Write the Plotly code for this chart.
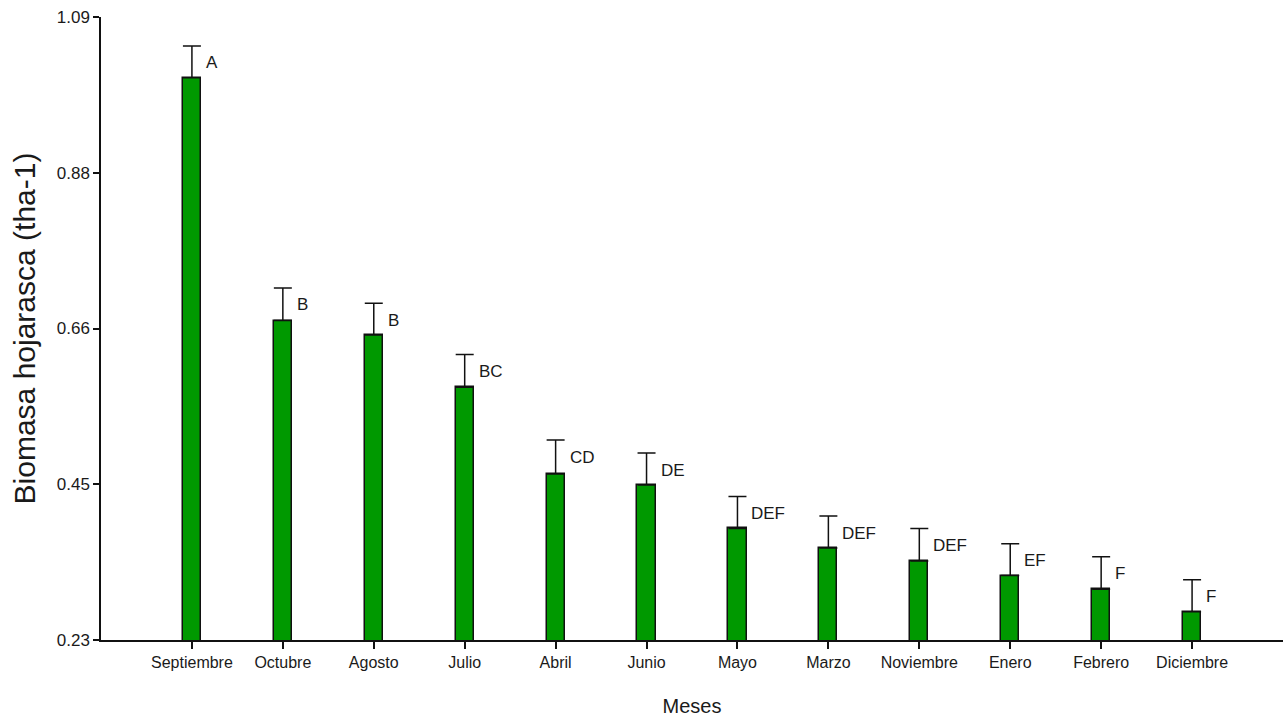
import plotly.graph_objects as go

meses = ["Septiembre", "Octubre", "Agosto", "Julio", "Abril", "Junio",
         "Mayo", "Marzo", "Noviembre", "Enero", "Febrero", "Diciembre"]
biomasa = [1.006, 0.671, 0.651, 0.579, 0.459, 0.444,
           0.384, 0.357, 0.339, 0.319, 0.300, 0.269]
error = [0.044, 0.045, 0.044, 0.045, 0.047, 0.044,
         0.044, 0.044, 0.045, 0.044, 0.045, 0.044]
letras = ["A", "B", "B", "BC", "CD", "DE", "DEF", "DEF", "DEF", "EF", "F", "F"]

y_tickvals = [0.23, 0.445, 0.66, 0.875, 1.09]
y_ticktext = ["0.23", "0.45", "0.66", "0.88", "1.09"]

FONT = "Liberation Sans, Arial, sans-serif"
TXT = "#1a1a1a"

fig = go.Figure()
fig.add_trace(go.Bar(
    x=list(range(len(meses))),
    y=biomasa,
    width=0.2,
    marker=dict(color="#009900", line=dict(color="#111111", width=1.5)),
    error_y=dict(type="data", symmetric=False, array=error,
                 arrayminus=[0] * len(error),
                 color="#111111", thickness=1.5, width=9),
    showlegend=False,
))

for i, (v, e, l) in enumerate(zip(biomasa, error, letras)):
    fig.add_annotation(x=i, y=v + e, text=l, showarrow=False,
                       xanchor="left", yanchor="middle",
                       xshift=12, yshift=-17,
                       font=dict(family=FONT, size=17, color=TXT))

fig.update_layout(
    width=1283, height=717, autosize=False,
    margin=dict(l=101, r=0, t=17, b=77),
    plot_bgcolor="white", paper_bgcolor="white",
    bargap=0,
    font=dict(family=FONT, size=16, color=TXT),
    xaxis=dict(
        range=[-1, 12],
        tickmode="array", tickvals=list(range(len(meses))), ticktext=meses,
        showline=True, linecolor="#111111", linewidth=1.5,
        ticks="outside", ticklen=7, tickwidth=1.5, tickcolor="#111111",
        showgrid=False, zeroline=False,
        tickfont=dict(family=FONT, size=16, color=TXT),
        title=dict(text="Meses", standoff=29,
                   font=dict(family=FONT, size=20, color=TXT)),
    ),
    yaxis=dict(
        range=[0.23, 1.09],
        tickmode="array", tickvals=y_tickvals, ticktext=y_ticktext,
        showline=True, linecolor="#111111", linewidth=1.5,
        ticks="outside", ticklen=6, tickwidth=1.5, tickcolor="#111111",
        showgrid=False, zeroline=False,
        tickfont=dict(family=FONT, size=17, color=TXT),
        title=dict(text="Biomasa hojarasca (tha-1)", standoff=12,
                   font=dict(family=FONT, size=30, color=TXT)),
    ),
)

fig.write_html("out.html", config={"displayModeBar": False},
               post_script="document.body.style.margin='0px';")
